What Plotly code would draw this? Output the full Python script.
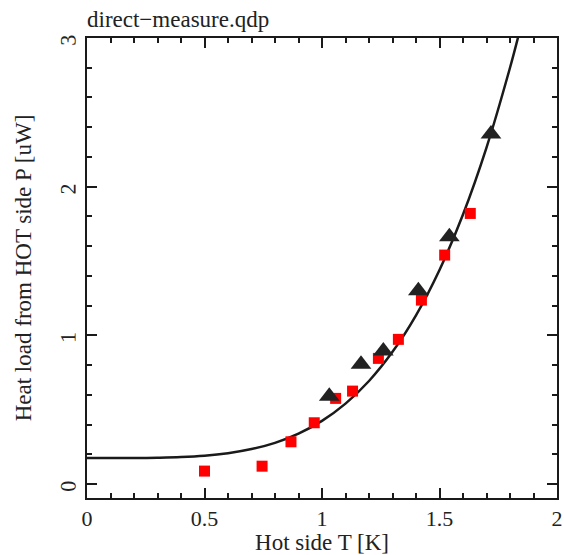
import plotly.graph_objects as go

# Measured data (red squares)
sq_T = [0.50, 0.745, 0.868, 0.967, 1.058, 1.13, 1.24, 1.325, 1.423, 1.522, 1.631]
sq_P = [0.087, 0.12, 0.284, 0.412, 0.576, 0.625, 0.845, 0.973, 1.237, 1.54, 1.82]

# Measured data (black triangles)
tr_T = [1.031, 1.166, 1.261, 1.41, 1.542, 1.719]
tr_P = [0.59, 0.805, 0.894, 1.30, 1.663, 2.354]

# Model curve, points
curve_T = [0.0, 0.1, 0.2, 0.3, 0.4, 0.5, 0.6, 0.7, 0.8, 0.9, 1.0, 1.1, 1.2, 1.3, 1.4, 1.5, 1.6, 1.7, 1.8, 1.84]
curve_P = [0.175, 0.175, 0.175, 0.177, 0.181, 0.19, 0.207, 0.235, 0.277, 0.339, 0.425, 0.541, 0.693, 0.889, 1.135, 1.44, 1.813, 2.263, 2.80, 3.04]

x_ticks = [0, 0.5, 1, 1.5, 2]
x_labels = ["0", "0.5", "1", "1.5", "2"]
y_ticks = [0, 1, 2, 3]
y_labels = ["0", "1", "2", "3"]

font_family = "Liberation Serif"
txt = "#222222"

fig = go.Figure()
fig.add_trace(go.Scatter(x=curve_T, y=curve_P, mode="lines",
                         line=dict(color="#1a1a1a", width=2.5, shape="spline"),
                         showlegend=False, hoverinfo="skip"))
fig.add_trace(go.Scatter(x=sq_T, y=sq_P, mode="markers",
                         marker=dict(symbol="square", size=11, color="#ff0000", line=dict(width=0)),
                         showlegend=False))
fig.add_trace(go.Scatter(x=tr_T, y=tr_P, mode="markers",
                         marker=dict(symbol="triangle-up", size=18, color="#222222", line=dict(width=0)),
                         showlegend=False))

axis_common = dict(
    showgrid=False, zeroline=False, showline=True, linecolor="#1a1a1a", linewidth=2,
    mirror="ticks", ticks="inside", ticklen=10, tickwidth=2, tickcolor="#1a1a1a",
    tickfont=dict(family=font_family, size=22, color=txt), automargin=False,
)

fig.update_xaxes(range=[0, 2], tickvals=x_ticks, ticktext=x_labels,
                 minor=dict(dtick=0.1, tick0=0, ticks="inside", ticklen=5, tickwidth=2, tickcolor="#1a1a1a"),
                 title=dict(text="Hot side T [K]", font=dict(family=font_family, size=23, color=txt), standoff=7),
                 **axis_common)
fig.update_yaxes(range=[-0.094, 3], tickvals=y_ticks, ticktext=y_labels,
                 tickangle=-89.9, ticklabelstandoff=16,
                 minor=dict(dtick=0.2, tick0=0, ticks="inside", ticklen=5, tickwidth=2, tickcolor="#1a1a1a"),
                 title=dict(text="Heat load from HOT side P [uW]", font=dict(family=font_family, size=23, color=txt), standoff=18),
                 **axis_common)

fig.update_layout(
    width=564, height=555,
    margin=dict(l=87, r=7, t=38, b=57, autoexpand=False),
    plot_bgcolor="white", paper_bgcolor="white",
    title=dict(text="direct\u2212measure.qdp", x=87/564, xanchor="left", y=1-19/555, yanchor="middle",
               font=dict(family=font_family, size=23, color=txt), automargin=False),
)

fig.write_html("out.html")
